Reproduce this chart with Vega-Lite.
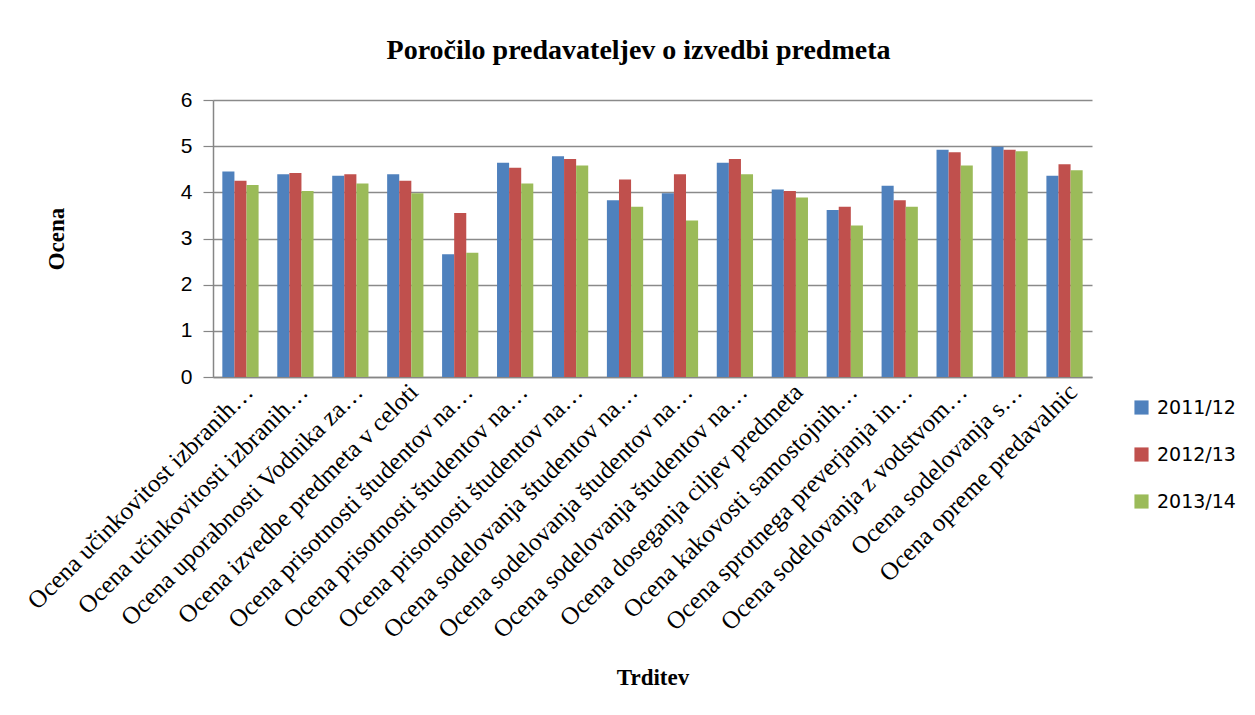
{
  "$schema": "https://vega.github.io/schema/vega-lite/v6.json",
  "autosize": "none",
  "width": 879,
  "height": 277,
  "padding": {"left": 213, "top": 100, "right": 163, "bottom": 338},
  "background": "white",
  "title": {
    "text": "Poročilo predavateljev o izvedbi predmeta",
    "font": "Liberation Serif",
    "fontSize": 28,
    "fontWeight": "bold",
    "color": "#000000",
    "anchor": "middle",
    "frame": "group",
    "dx": -14,
    "offset": 24
  },
  "data": {
    "values": [
      {"t": "01|Ocena učinkovitost izbranih…", "leto": "2011/12", "ocena": 4.45},
      {"t": "01|Ocena učinkovitost izbranih…", "leto": "2012/13", "ocena": 4.25},
      {"t": "01|Ocena učinkovitost izbranih…", "leto": "2013/14", "ocena": 4.16},
      {"t": "02|Ocena učinkovitosti izbranih…", "leto": "2011/12", "ocena": 4.39},
      {"t": "02|Ocena učinkovitosti izbranih…", "leto": "2012/13", "ocena": 4.42},
      {"t": "02|Ocena učinkovitosti izbranih…", "leto": "2013/14", "ocena": 4.03},
      {"t": "03|Ocena uporabnosti Vodnika za…", "leto": "2011/12", "ocena": 4.36},
      {"t": "03|Ocena uporabnosti Vodnika za…", "leto": "2012/13", "ocena": 4.39},
      {"t": "03|Ocena uporabnosti Vodnika za…", "leto": "2013/14", "ocena": 4.19},
      {"t": "04|Ocena izvedbe predmeta v celoti", "leto": "2011/12", "ocena": 4.39},
      {"t": "04|Ocena izvedbe predmeta v celoti", "leto": "2012/13", "ocena": 4.25},
      {"t": "04|Ocena izvedbe predmeta v celoti", "leto": "2013/14", "ocena": 3.98},
      {"t": "05|Ocena prisotnosti študentov na…", "leto": "2011/12", "ocena": 2.66},
      {"t": "05|Ocena prisotnosti študentov na…", "leto": "2012/13", "ocena": 3.55},
      {"t": "05|Ocena prisotnosti študentov na…", "leto": "2013/14", "ocena": 2.69},
      {"t": "06|Ocena prisotnosti študentov na…", "leto": "2011/12", "ocena": 4.64},
      {"t": "06|Ocena prisotnosti študentov na…", "leto": "2012/13", "ocena": 4.53},
      {"t": "06|Ocena prisotnosti študentov na…", "leto": "2013/14", "ocena": 4.19},
      {"t": "07|Ocena prisotnosti študentov na…", "leto": "2011/12", "ocena": 4.78},
      {"t": "07|Ocena prisotnosti študentov na…", "leto": "2012/13", "ocena": 4.72},
      {"t": "07|Ocena prisotnosti študentov na…", "leto": "2013/14", "ocena": 4.58},
      {"t": "08|Ocena sodelovanja študentov na…", "leto": "2011/12", "ocena": 3.83},
      {"t": "08|Ocena sodelovanja študentov na…", "leto": "2012/13", "ocena": 4.28},
      {"t": "08|Ocena sodelovanja študentov na…", "leto": "2013/14", "ocena": 3.69},
      {"t": "09|Ocena sodelovanja študentov na…", "leto": "2011/12", "ocena": 3.98},
      {"t": "09|Ocena sodelovanja študentov na…", "leto": "2012/13", "ocena": 4.39},
      {"t": "09|Ocena sodelovanja študentov na…", "leto": "2013/14", "ocena": 3.39},
      {"t": "10|Ocena sodelovanja študentov na…", "leto": "2011/12", "ocena": 4.64},
      {"t": "10|Ocena sodelovanja študentov na…", "leto": "2012/13", "ocena": 4.72},
      {"t": "10|Ocena sodelovanja študentov na…", "leto": "2013/14", "ocena": 4.39},
      {"t": "11|Ocena doseganja ciljev predmeta", "leto": "2011/12", "ocena": 4.06},
      {"t": "11|Ocena doseganja ciljev predmeta", "leto": "2012/13", "ocena": 4.03},
      {"t": "11|Ocena doseganja ciljev predmeta", "leto": "2013/14", "ocena": 3.89},
      {"t": "12|Ocena kakovosti samostojnih…", "leto": "2011/12", "ocena": 3.62},
      {"t": "12|Ocena kakovosti samostojnih…", "leto": "2012/13", "ocena": 3.69},
      {"t": "12|Ocena kakovosti samostojnih…", "leto": "2013/14", "ocena": 3.28},
      {"t": "13|Ocena sprotnega preverjanja in…", "leto": "2011/12", "ocena": 4.14},
      {"t": "13|Ocena sprotnega preverjanja in…", "leto": "2012/13", "ocena": 3.83},
      {"t": "13|Ocena sprotnega preverjanja in…", "leto": "2013/14", "ocena": 3.69},
      {"t": "14|Ocena sodelovanja z vodstvom…", "leto": "2011/12", "ocena": 4.92},
      {"t": "14|Ocena sodelovanja z vodstvom…", "leto": "2012/13", "ocena": 4.87},
      {"t": "14|Ocena sodelovanja z vodstvom…", "leto": "2013/14", "ocena": 4.58},
      {"t": "15|Ocena sodelovanja s…", "leto": "2011/12", "ocena": 4.99},
      {"t": "15|Ocena sodelovanja s…", "leto": "2012/13", "ocena": 4.92},
      {"t": "15|Ocena sodelovanja s…", "leto": "2013/14", "ocena": 4.89},
      {"t": "16|Ocena opreme predavalnic", "leto": "2011/12", "ocena": 4.36},
      {"t": "16|Ocena opreme predavalnic", "leto": "2012/13", "ocena": 4.61},
      {"t": "16|Ocena opreme predavalnic", "leto": "2013/14", "ocena": 4.48}
    ]
  },
  "mark": {"type": "bar"},
  "encoding": {
    "x": {
      "field": "t",
      "type": "nominal",
      "sort": null,
      "scale": {"paddingInner": 0.34, "paddingOuter": 0.17},
      "axis": {
        "title": "Trditev",
        "titleFont": "Liberation Serif",
        "titleFontSize": 23,
        "titleFontWeight": "bold",
        "titleColor": "#000000",
        "titlePadding": 89,
        "labelExpr": "split(datum.label, '|')[1]",
        "labelAngle": -45,
        "labelFont": "Liberation Serif",
        "labelFontSize": 25,
        "labelColor": "#000000",
        "labelLimit": 700,
        "labelPadding": 2,
        "ticks": false,
        "domainColor": "#868686",
        "domainWidth": 1.5,
        "grid": false
      }
    },
    "xOffset": {
      "field": "leto",
      "type": "nominal",
      "sort": ["2011/12", "2012/13", "2013/14"],
      "scale": {"paddingInner": 0, "paddingOuter": 0}
    },
    "y": {
      "field": "ocena",
      "type": "quantitative",
      "scale": {"domain": [0, 6], "nice": false},
      "axis": {
        "title": "Ocena",
        "titleFont": "Liberation Serif",
        "titleFontSize": 23,
        "titleFontWeight": "bold",
        "titleColor": "#000000",
        "titlePadding": 112,
        "values": [0, 1, 2, 3, 4, 5, 6],
        "format": "d",
        "labelFont": "Liberation Sans",
        "labelFontSize": 21,
        "labelColor": "#000000",
        "labelPadding": 11,
        "tickSize": 10,
        "tickColor": "#868686",
        "tickWidth": 1.2,
        "domainColor": "#868686",
        "domainWidth": 1.5,
        "grid": true,
        "gridColor": "#8a8a8a",
        "gridWidth": 1.3
      }
    },
    "color": {
      "field": "leto",
      "type": "nominal",
      "scale": {
        "domain": ["2011/12", "2012/13", "2013/14"],
        "range": ["#4f81bd", "#c0504d", "#9bbb59"]
      },
      "legend": {
        "title": null,
        "orient": "none",
        "legendX": 919,
        "legendY": 298,
        "symbolType": "square",
        "symbolSize": 200,
        "symbolStrokeWidth": 0,
        "labelFont": "DejaVu Sans",
        "labelFontSize": 19,
        "labelColor": "#000000",
        "labelOffset": 6,
        "rowPadding": 27
      }
    }
  },
  "config": {
    "view": {"stroke": null}
  }
}
